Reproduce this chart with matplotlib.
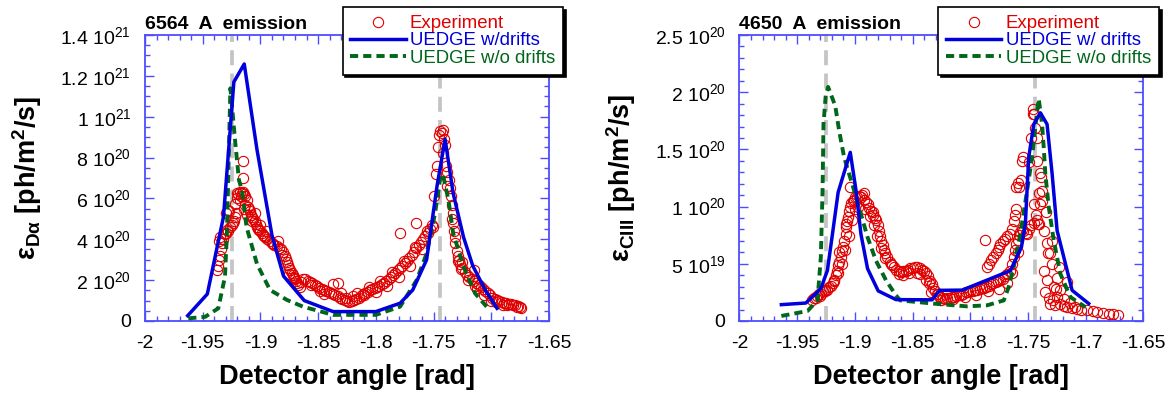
import matplotlib.pyplot as plt
from matplotlib.ticker import FixedLocator, MultipleLocator

plt.rcParams['font.family'] = ['Liberation Sans', 'DejaVu Sans']
plt.rcParams['mathtext.fontset'] = 'custom'
plt.rcParams['mathtext.rm'] = 'Liberation Sans'
plt.rcParams['mathtext.it'] = 'Liberation Sans:italic'
plt.rcParams['mathtext.bf'] = 'Liberation Sans:bold'

# ---- data (y values in units of 1e20 ph/m^2/s) ----
separatrix = [-1.9246, -1.7442]

# 6564 A (D-alpha)
da_drift_x = [-1.963, -1.946, -1.932, -1.923, -1.914, -1.903, -1.890, -1.880, -1.862,
              -1.837, -1.800, -1.779, -1.768, -1.756, -1.747, -1.740, -1.733, -1.724,
              -1.716, -1.705, -1.695]
da_drift_y = [0.26, 1.32, 5.1, 11.7, 12.58, 8.4, 4.2, 2.2, 1.0,
              0.46, 0.46, 0.87, 1.52, 3.0, 6.6, 8.9, 6.25, 4.1,
              2.7, 1.5, 0.62]
da_nodrift_x = [-1.9625, -1.948, -1.9365, -1.9307, -1.929, -1.928, -1.926, -1.922, -1.9186,
                -1.916, -1.912, -1.903, -1.8917, -1.877, -1.863, -1.837, -1.800, -1.779,
                -1.7646, -1.756, -1.7487, -1.7444, -1.742, -1.737, -1.733, -1.724, -1.714,
                -1.704]
da_nodrift_y = [0.13, 0.2, 0.62, 2.17, 4.3, 6.74, 11.39, 8.86, 6.9,
                6.4, 4.6, 2.8, 1.52, 1.03, 0.7, 0.3, 0.3, 0.7,
                2.0, 3.3, 5.27, 6.9, 7.2, 5.9, 4.3, 2.66, 1.35,
                0.7]
da_exp_x = [-1.9375, -1.937, -1.936, -1.935, -1.9345, -1.936, -1.935, -1.9335, -1.932, -1.931,
            -1.930, -1.929, -1.928, -1.9295, -1.9285, -1.927, -1.926, -1.925, -1.924, -1.923,
            -1.922, -1.921, -1.922, -1.9205, -1.920, -1.919, -1.918, -1.917, -1.916, -1.915,
            -1.914, -1.913, -1.915, -1.9155, -1.914, -1.913, -1.912, -1.911, -1.910, -1.909,
            -1.908, -1.907, -1.906, -1.905, -1.904, -1.903, -1.902, -1.901, -1.900, -1.899,
            -1.898, -1.896, -1.894, -1.892, -1.890, -1.888, -1.886, -1.884, -1.882, -1.880,
            -1.879, -1.878, -1.877, -1.876, -1.875, -1.874, -1.873, -1.872, -1.871, -1.870,
            -1.869, -1.868, -1.867, -1.866, -1.8645, -1.863, -1.861, -1.859, -1.857, -1.855,
            -1.853, -1.851, -1.849, -1.847, -1.845, -1.843, -1.841, -1.839, -1.837, -1.833,
            -1.837, -1.835, -1.833, -1.831, -1.829, -1.827, -1.825, -1.823, -1.821, -1.819,
            -1.817, -1.815, -1.813, -1.811, -1.809, -1.807, -1.805, -1.803, -1.801, -1.799,
            -1.797, -1.795, -1.793, -1.791, -1.789, -1.787, -1.785, -1.783, -1.781, -1.779,
            -1.777, -1.775, -1.773, -1.771, -1.769, -1.767, -1.765, -1.763, -1.761, -1.759,
            -1.757, -1.755, -1.753, -1.779, -1.765, -1.751, -1.7495, -1.7475, -1.747, -1.746,
            -1.7455, -1.7445, -1.743, -1.742, -1.7415, -1.741, -1.740, -1.739, -1.738, -1.737,
            -1.736, -1.735, -1.734, -1.7335, -1.733, -1.732, -1.7315, -1.731, -1.730, -1.729,
            -1.728, -1.727, -1.725, -1.723, -1.721, -1.719, -1.717, -1.715, -1.715, -1.713,
            -1.711, -1.709, -1.707, -1.705, -1.703, -1.701, -1.699, -1.697, -1.695, -1.693,
            -1.691, -1.689, -1.687, -1.685, -1.683, -1.681, -1.679, -1.677, -1.675, -1.674,
            -1.905, -1.900, -1.895, -1.885, -1.875, -1.845, -1.830, -1.820, -1.810, -1.800,
            -1.790, -1.780, -1.770, -1.760, -1.725, -1.712, -1.700, -1.690,
            -1.918, -1.912, -1.907, -1.897, -1.889, -1.881, -1.871, -1.856, -1.848, -1.826,
            -1.816, -1.806, -1.796, -1.786, -1.776, -1.766, -1.756, -1.7505, -1.738, -1.734,
            -1.729, -1.726, -1.720, -1.714, -1.706, -1.696, -1.686, -1.678]
da_exp_y = [2.5, 2.7, 3.0, 3.2, 3.5, 3.9, 4.1, 3.8, 4.0, 4.25,
            4.3, 4.45, 4.4, 5.3, 5.45, 5.4, 4.6, 4.7, 4.8, 4.9,
            5.1, 5.3, 5.75, 6.0, 6.25, 6.2, 6.3, 6.1, 6.25, 6.3,
            6.2, 6.1, 7.0, 7.85, 5.5, 5.7, 5.9, 5.6, 5.5, 5.4,
            5.2, 5.1, 5.0, 4.9, 4.75, 4.6, 4.5, 4.45, 4.4, 4.3,
            4.2, 4.1, 4.0, 3.9, 3.8, 3.7, 3.65, 3.55, 3.5, 3.4,
            3.2, 3.05, 2.9, 2.75, 2.6, 2.5, 2.35, 2.25, 2.15, 2.05,
            1.95, 1.85, 1.75, 1.65, 1.9, 2.05, 2.05, 1.95, 1.9, 1.85,
            1.75, 1.7, 1.6, 1.55, 1.5, 1.45, 1.4, 1.35, 1.8, 1.85,
            1.3, 1.25, 1.2, 1.15, 1.1, 1.05, 1.0, 0.95, 1.0, 1.05,
            1.1, 1.15, 1.2, 1.3, 1.35, 1.4, 1.5, 1.55, 1.6, 1.65,
            1.7, 1.8, 1.85, 1.95, 2.05, 2.15, 2.25, 2.35, 2.5, 2.6,
            2.7, 2.85, 2.95, 3.1, 3.25, 3.4, 3.55, 3.7, 3.85, 4.0,
            4.15, 4.3, 4.5, 4.3, 4.8, 4.7, 6.1, 7.2, 7.6, 8.5,
            9.1, 9.3, 9.2, 9.35, 8.2, 8.9, 8.6, 7.6, 7.3, 6.9,
            6.5, 6.1, 5.7, 5.3, 4.8, 4.4, 4.1, 3.8, 3.45, 3.2,
            3.0, 2.8, 2.6, 2.4, 2.25, 2.15, 2.05, 1.95, 2.5, 1.85,
            1.75, 1.65, 1.55, 1.45, 1.35, 1.25, 1.15, 1.1, 1.05, 1.0,
            0.95, 0.9, 0.88, 0.85, 0.82, 0.8, 0.76, 0.72, 0.68, 0.62,
            5.3, 4.7, 4.4, 3.9, 2.3, 1.3, 1.35, 1.2, 1.25, 1.4,
            1.7, 2.15, 2.7, 3.5, 2.9, 1.6, 1.0, 0.8,
            5.9, 5.2, 4.9, 4.15, 3.75, 3.25, 2.1, 1.75, 1.45, 1.15,
            1.35, 1.65, 1.95, 2.4, 2.95, 3.6, 4.4, 4.6, 6.6, 5.0,
            2.95, 2.55, 2.0, 1.7, 1.25, 0.95, 0.78, 0.7]

# 4650 A (C III)
c3_drift_x = [-1.9637, -1.9425, -1.9295, -1.9238, -1.9194, -1.9145, -1.904, -1.899, -1.8948,
              -1.889, -1.8798, -1.8644, -1.8332, -1.8265, -1.807, -1.7653, -1.7557, -1.7523,
              -1.7494, -1.745, -1.7393, -1.7335, -1.7291, -1.7248, -1.719, -1.7118, -1.6974]
c3_drift_y = [0.143, 0.157, 0.283, 0.442, 0.762, 1.125, 1.474, 1.14, 0.762,
              0.457, 0.263, 0.187, 0.185, 0.268, 0.27, 0.44, 0.645, 0.85,
              1.43, 1.72, 1.82, 1.72, 1.285, 0.79, 0.558, 0.268, 0.152]
c3_nodrift_x = [-1.9637, -1.9411, -1.9324, -1.9295, -1.928, -1.9272, -1.9252, -1.9232, -1.917,
                -1.9136, -1.9093, -1.905, -1.9006, -1.8948, -1.889, -1.8818, -1.873, -1.8644,
                -1.8607, -1.8318, -1.803, -1.7855, -1.771, -1.7668, -1.7624, -1.7566, -1.7508,
                -1.7465, -1.7421, -1.7407, -1.7378, -1.7364, -1.735, -1.732, -1.7277, -1.722,
                -1.7133, -1.7003]
c3_nodrift_y = [0.044, 0.087, 0.18, 0.558, 1.14, 1.72, 1.98, 2.046, 1.88,
                1.66, 1.43, 1.285, 1.14, 0.936, 0.732, 0.529, 0.355, 0.224,
                0.18, 0.152, 0.128, 0.137, 0.18, 0.296, 0.471, 0.762, 1.14,
                1.43, 1.84, 1.94, 1.72, 1.517, 1.285, 0.994, 0.704, 0.413,
                0.209, 0.122]
c3_exp_x = [-1.937, -1.935, -1.933, -1.931, -1.9295, -1.928, -1.926, -1.924, -1.922, -1.9205,
            -1.919, -1.918, -1.9165, -1.9155, -1.915, -1.9135, -1.912, -1.911, -1.910, -1.909,
            -1.908, -1.9075, -1.9065, -1.906, -1.905, -1.904, -1.903, -1.902, -1.901, -1.8995,
            -1.898, -1.904, -1.8965, -1.895, -1.8935, -1.892, -1.8905, -1.889, -1.8875, -1.886,
            -1.8845, -1.883, -1.8815, -1.880, -1.879, -1.878, -1.877, -1.876, -1.875, -1.8735,
            -1.872, -1.870, -1.868, -1.866, -1.864, -1.862, -1.860, -1.858, -1.856, -1.854,
            -1.852, -1.850, -1.848, -1.846, -1.844, -1.842, -1.840, -1.838, -1.8365, -1.835,
            -1.8335, -1.832, -1.8305, -1.829, -1.8275, -1.826, -1.824, -1.822, -1.820, -1.818,
            -1.816, -1.814, -1.812, -1.810, -1.808, -1.806, -1.804, -1.802, -1.800, -1.798,
            -1.796, -1.794, -1.792, -1.790, -1.788, -1.786, -1.784, -1.782, -1.780, -1.778,
            -1.776, -1.774, -1.772, -1.770, -1.768, -1.766, -1.764, -1.7625, -1.761, -1.760,
            -1.759, -1.758, -1.757, -1.7555, -1.754, -1.752, -1.7505, -1.749, -1.747, -1.745,
            -1.7435, -1.745, -1.7425, -1.741,
            -1.787, -1.7855, -1.784, -1.782, -1.780, -1.778, -1.776, -1.7755, -1.774, -1.772,
            -1.770, -1.768, -1.766, -1.764, -1.7625, -1.761, -1.760, -1.7605, -1.759, -1.7575,
            -1.7565, -1.7555, -1.754, -1.7495, -1.7475, -1.746, -1.7455, -1.7445, -1.744, -1.7425,
            -1.742, -1.7395, -1.739, -1.738, -1.7395, -1.7405,
            -1.7365, -1.7335, -1.731, -1.729, -1.733, -1.7365, -1.7335, -1.7277, -1.725, -1.7234,
            -1.722, -1.716, -1.725, -1.7306, -1.722, -1.716, -1.712, -1.7075, -1.704, -1.699,
            -1.694, -1.690, -1.685, -1.680, -1.676, -1.672, -1.735, -1.7315, -1.728, -1.7265,
            -1.719, -1.930, -1.914, -1.908, -1.892, -1.884, -1.858, -1.846, -1.836, -1.828,
            -1.9335, -1.9255, -1.9185, -1.9145, -1.9115, -1.9085, -1.9055, -1.9025, -1.8995, -1.897,
            -1.891, -1.887, -1.8835, -1.8805, -1.8775, -1.874, -1.869, -1.862, -1.853, -1.844,
            -1.8385, -1.834, -1.825, -1.815, -1.805, -1.795, -1.785, -1.775, -1.7685, -1.7635,
            -1.7585, -1.7405, -1.7375, -1.7345, -1.7295, -1.7255, -1.7185, -1.7135, -1.7095]
c3_exp_y = [0.18, 0.2, 0.22, 0.24, 0.24, 0.26, 0.27, 0.27, 0.30, 0.31,
            0.33, 0.36, 0.40, 0.44, 0.49, 0.52, 0.56, 0.61, 0.65, 0.70,
            0.76, 0.82, 0.87, 0.91, 0.96, 1.0, 1.03, 1.05, 1.06, 1.08,
            1.08, 1.17, 1.09, 1.08, 1.1, 1.06, 1.04, 1.02, 0.99, 0.96,
            0.93, 0.90, 0.88, 0.84, 0.79, 0.74, 0.70, 0.66, 0.62, 0.59,
            0.56, 0.52, 0.49, 0.47, 0.45, 0.44, 0.43, 0.44, 0.44, 0.45,
            0.46, 0.46, 0.47, 0.47, 0.46, 0.45, 0.44, 0.42, 0.39, 0.35,
            0.32, 0.29, 0.26, 0.24, 0.22, 0.21, 0.2, 0.19, 0.2, 0.2,
            0.21, 0.21, 0.22, 0.23, 0.23, 0.24, 0.25, 0.25, 0.26, 0.26,
            0.27, 0.27, 0.28, 0.29, 0.29, 0.30, 0.31, 0.32, 0.33, 0.34,
            0.35, 0.36, 0.37, 0.39, 0.41, 0.44, 0.50, 0.56, 0.62, 0.67,
            0.71, 0.75, 0.78, 0.80, 0.79, 0.77, 0.76, 0.80, 0.84, 0.86,
            0.93, 1.02, 0.88, 0.85,
            0.71, 0.47, 0.50, 0.53, 0.56, 0.59, 0.62, 0.645, 0.67, 0.70,
            0.72, 0.74, 0.76, 0.80, 0.87, 0.93, 0.98, 1.17, 1.21, 1.17,
            1.23, 1.40, 1.43, 1.39, 1.60, 1.81, 1.85, 1.81, 1.69, 1.60,
            1.40, 1.29, 1.26, 1.14, 1.02, 0.85,
            0.79, 0.68, 0.59, 0.50, 0.59, 0.44, 0.36, 0.30, 0.38, 0.47,
            0.27, 0.34, 0.21, 0.15, 0.15, 0.12, 0.11, 0.108, 0.10, 0.093,
            0.09, 0.08, 0.07, 0.065, 0.06, 0.056, 0.25, 0.2, 0.18, 0.14,
            0.13, 0.22, 0.60, 0.85, 1.12, 0.95, 0.40, 0.42, 0.33, 0.24,
            0.2, 0.26, 0.35, 0.42, 0.5, 0.62, 0.74, 0.88, 0.98, 1.0,
            0.98, 0.92, 0.84, 0.74, 0.64, 0.55, 0.5, 0.41, 0.42, 0.41,
            0.36, 0.25, 0.18, 0.19, 0.21, 0.23, 0.26, 0.28, 0.33, 0.42,
            0.6, 1.12, 1.05, 0.95, 0.7, 0.28, 0.19, 0.16, 0.12]

da_ticks = [0, 2e20, 4e20, 6e20, 8e20, 1e21, 1.2e21, 1.4e21]
da_ticklabels = ['0', '2 10^{20}', '4 10^{20}', '6 10^{20}', '8 10^{20}',
                 '1 10^{21}', '1.2 10^{21}', '1.4 10^{21}']
c3_ticks = [0, 5e19, 1e20, 1.5e20, 2e20, 2.5e20]
c3_ticklabels = ['0', '5 10^{19}', '1 10^{20}', '1.5 10^{20}', '2 10^{20}', '2.5 10^{20}']

spine_color = '#4d4dff'
red = '#e00000'
blue = '#0000dd'
green = '#00661a'


def fmt(lbl):
    if lbl == '0':
        return '0'
    return r'$\mathregular{' + lbl.replace(' ', r'\ ') + '}$'


def panel(ax, title, drift_x, drift_y, nodrift_x, nodrift_y, exp_x, exp_y,
          ticks, ticklabels, minor, ymax, sub, drift_label, legend_right):
    for xs in separatrix:
        ax.axvline(xs, color='#c4c4c4', lw=2.7, dashes=(4.0, 2.2), zorder=1)
    ax.plot(exp_x, [v * 1e20 for v in exp_y], 'o', mfc='none', mec=red, mew=0.8,
            ms=7.4, color=red, label='Experiment', zorder=2)
    ax.plot(nodrift_x, [v * 1e20 for v in nodrift_y], color=green, lw=2.8,
            dashes=(2.1, 1.3), label='UEDGE w/o drifts', zorder=3)
    ax.plot(drift_x, [v * 1e20 for v in drift_y], color=blue, lw=2.5,
            label=drift_label, zorder=4)

    ax.set_xlim(-2, -1.65)
    ax.set_ylim(0, ymax)
    ax.xaxis.set_minor_locator(MultipleLocator(0.01))
    ax.set_xticks([-2, -1.95, -1.9, -1.85, -1.8, -1.75, -1.7, -1.65])
    ax.set_xticklabels(['-2', '-1.95', '-1.9', '-1.85', '-1.8', '-1.75', '-1.7', '-1.65'])
    ax.yaxis.set_major_locator(FixedLocator(ticks))
    ax.yaxis.set_minor_locator(MultipleLocator(minor))
    ax.set_yticklabels([fmt(t) for t in ticklabels])

    for s in ax.spines.values():
        s.set_color(spine_color)
        s.set_linewidth(1.3)
    ax.tick_params(which='both', direction='in', top=True, right=True,
                   color=spine_color, width=1.0, labelsize=14, pad=10)
    ax.tick_params(which='major', length=6.5)
    ax.tick_params(which='minor', length=3.8)

    ax.set_title(title, loc='left', fontsize=14, fontweight='bold', pad=4)
    ax.set_xlabel('Detector angle [rad]', fontsize=19.5, fontweight='bold')
    ax.xaxis.set_label_coords(0.5, -0.15)
    ax.set_ylabel('ε$_{\\mathbf{' + sub + '}}$ [ph/m$^{\\mathbf{2}}$/s]',
                  fontsize=19.5, fontweight='bold')
    ax.yaxis.set_label_coords(-0.25, 0.5)

    h, l = ax.get_legend_handles_labels()
    order = [0, 2, 1]
    leg = ax.legend([h[i] for i in order], [l[i] for i in order],
                    loc='upper right', bbox_to_anchor=(legend_right, 0.982),
                    bbox_transform=ax.figure.transFigure, borderaxespad=0,
                    fontsize=13.4, numpoints=1, handlelength=2.96,
                    handletextpad=0.24, labelspacing=0.02, borderpad=0.42,
                    fancybox=False, framealpha=1, edgecolor='black',
                    shadow={'color': 'black', 'alpha': 1})
    leg.get_frame().set_linewidth(1.2)
    leg.set_zorder(10)
    for txt, c in zip(leg.get_texts(), [red, blue, green]):
        txt.set_color(c)


fig = plt.figure(figsize=(11.73, 3.99), dpi=100)
ax1 = fig.add_axes([0.1236, 0.1955, 0.3444, 0.7168])
ax2 = fig.add_axes([0.6304, 0.1955, 0.3444, 0.7168])

panel(ax1, '6564  A  emission', da_drift_x, da_drift_y, da_nodrift_x, da_nodrift_y,
      da_exp_x, da_exp_y, da_ticks, da_ticklabels, 0.5e20, 1.4e21, 'D\\alpha',
      'UEDGE w/drifts', 0.480)
panel(ax2, '4650  A  emission', c3_drift_x, c3_drift_y, c3_nodrift_x, c3_nodrift_y,
      c3_exp_x, c3_exp_y, c3_ticks, c3_ticklabels, 1e19, 2.5e20, 'CIII',
      'UEDGE w/ drifts', 0.988)

fig.savefig('out.png', dpi=100)
